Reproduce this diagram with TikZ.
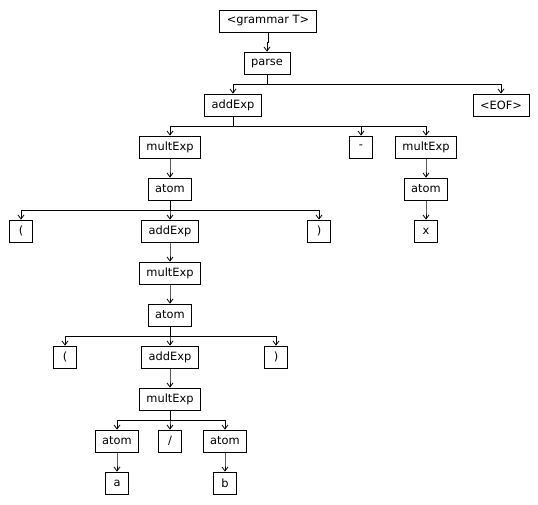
\documentclass[tikz,border=0pt]{standalone}
\usepackage{fontspec}
\setmainfont{DejaVu Sans}
\usetikzlibrary{positioning,arrows.meta}

\begin{document}
\begin{tikzpicture}[
parsenode/.style={draw, line width=0.8pt, font=\fontsize{11.4}{13}\selectfont, inner xsep=7pt, inner ysep=0pt, minimum width=23pt, minimum height=22pt},
edge/.style={line width=0.8pt, -{Straight Barb[length=4pt,width=6pt]}},
node distance=19.2pt]

\useasboundingbox (0,0) rectangle (538pt,-504pt);

\node[parsenode] (Grammar) at (268pt,-21pt) {<grammar T>};
\node[parsenode, below=of Grammar, xshift=-1pt] (Parse) {parse};

\node[parsenode, below=of Parse, xshift=-34pt] (AddExpA) {addExp};
\node[parsenode, below=of Parse, xshift=234pt] (EOF) {<EOF>};

\node[parsenode, below=of AddExpA, xshift=-63pt] (MultExpA) {multExp};
\node[parsenode, below=of AddExpA, xshift=128pt] (Minus) {-};
\node[parsenode, below=of AddExpA, xshift=193pt] (MultExpB) {multExp};

\node[parsenode, below=of MultExpA] (AtomA) {atom};
\node[parsenode, below=of MultExpB] (AtomB) {atom};

\node[parsenode, below=of AtomA, xshift=-149pt] (LParA) {(};
\node[parsenode, below=of AtomA] (AddExpB) {addExp};
\node[parsenode, below=of AtomA, xshift=149pt] (RParA) {)};
\node[parsenode, below=of AtomB] (X) {x};

\node[parsenode, below=of AddExpB] (MultExpC) {multExp};
\node[parsenode, below=of MultExpC] (AtomC) {atom};

\node[parsenode, below=of AtomC, xshift=-105pt] (LParB) {(};
\node[parsenode, below=of AtomC] (AddExpC) {addExp};
\node[parsenode, below=of AtomC, xshift=106pt] (RParB) {)};

\node[parsenode, below=of AddExpC] (MultExpD) {multExp};

\node[parsenode, below=of MultExpD, xshift=-53pt] (AtomD) {atom};
\node[parsenode, below=of MultExpD] (Slash) {/};
\node[parsenode, below=of MultExpD, xshift=55pt] (AtomE) {atom};

\node[parsenode, below=of AtomD] (A) {a};
\node[parsenode, below=of AtomE] (B) {b};

\draw[edge] (Grammar.south)--++(0,-10pt)-|(Parse.north);
\draw[edge] (Parse.south)--++(0,-10pt)-|(AddExpA.north);
\draw[edge] (Parse.south)--++(0,-10pt)-|(EOF.north);
\draw[edge] (AddExpA.south)--++(0,-10pt)-|(MultExpA.north);
\draw[edge] (AddExpA.south)--++(0,-10pt)-|(Minus.north);
\draw[edge] (AddExpA.south)--++(0,-10pt)-|(MultExpB.north);
\draw[edge] (MultExpA.south)--++(0,-10pt)-|(AtomA.north);
\draw[edge] (MultExpB.south)--++(0,-10pt)-|(AtomB.north);
\draw[edge] (AtomA.south)--++(0,-10pt)-|(LParA.north);
\draw[edge] (AtomA.south)--++(0,-10pt)-|(AddExpB.north);
\draw[edge] (AtomA.south)--++(0,-10pt)-|(RParA.north);
\draw[edge] (AtomB.south)--++(0,-10pt)-|(X.north);
\draw[edge] (AddExpB.south)--++(0,-10pt)-|(MultExpC.north);
\draw[edge] (MultExpC.south)--++(0,-10pt)-|(AtomC.north);
\draw[edge] (AtomC.south)--++(0,-10pt)-|(LParB.north);
\draw[edge] (AtomC.south)--++(0,-10pt)-|(AddExpC.north);
\draw[edge] (AtomC.south)--++(0,-10pt)-|(RParB.north);
\draw[edge] (AddExpC.south)--++(0,-10pt)-|(MultExpD.north);
\draw[edge] (MultExpD.south)--++(0,-10pt)-|(AtomD.north);
\draw[edge] (MultExpD.south)--++(0,-10pt)-|(Slash.north);
\draw[edge] (MultExpD.south)--++(0,-10pt)-|(AtomE.north);
\draw[edge] (AtomD.south)--++(0,-10pt)-|(A.north);
\draw[edge] (AtomE.south)--++(0,-10pt)-|(B.north);

\end{tikzpicture}
\end{document}
